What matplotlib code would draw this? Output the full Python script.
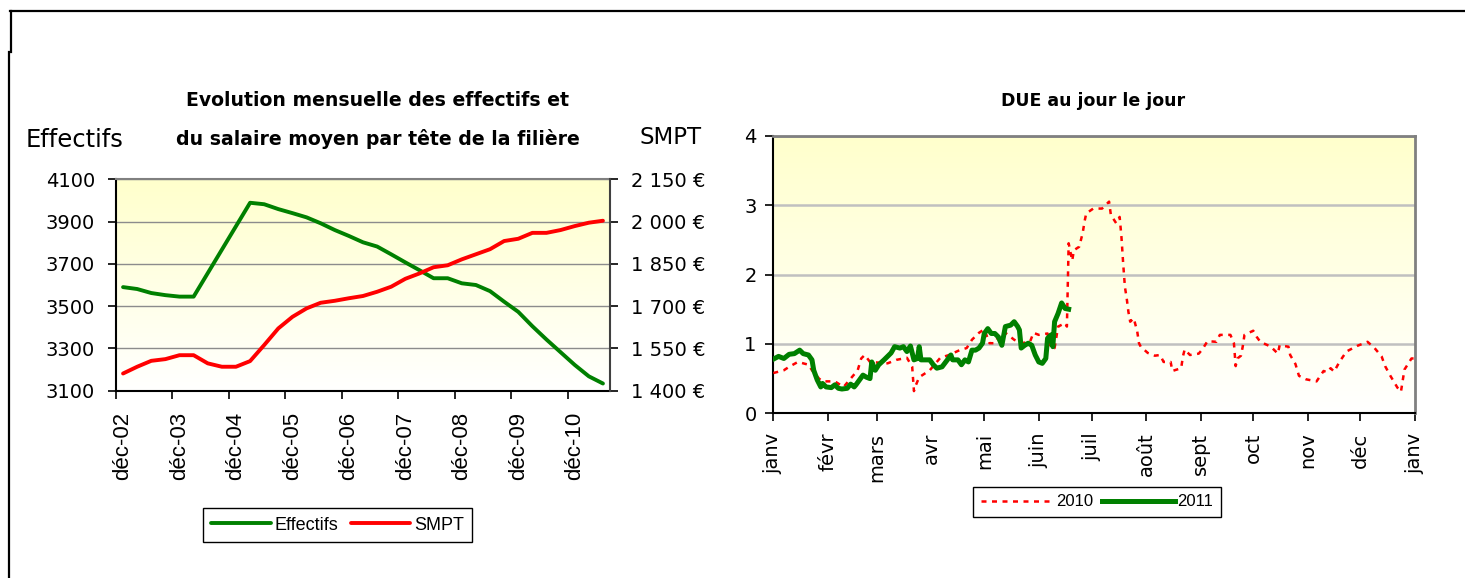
import numpy as np
import matplotlib
matplotlib.use("Agg")
import matplotlib.pyplot as plt
from matplotlib.colors import LinearSegmentedColormap
from matplotlib.lines import Line2D

# ---------------- data: left chart (quarterly, déc-02 .. juin-11) ----------------
effectifs = [3590, 3581, 3562, 3552, 3545, 3545, 3656, 3767, 3878, 3989,
             3982, 3959, 3940, 3920, 3892, 3860, 3832, 3802, 3782, 3745,
             3707, 3670, 3632, 3632, 3608, 3600, 3571, 3521, 3473, 3405,
             3342, 3282, 3222, 3168, 3134]
smpt = [1461, 1485, 1506, 1512, 1526, 1526, 1497, 1485, 1485, 1505,
        1562, 1621, 1662, 1692, 1712, 1719, 1728, 1736, 1751, 1769,
        1797, 1816, 1838, 1845, 1866, 1884, 1902, 1931, 1939, 1960,
        1960, 1970, 1984, 1996, 2003]
year_labels = ['déc-02', 'déc-03', 'déc-04', 'déc-05', 'déc-06',
               'déc-07', 'déc-08', 'déc-09', 'déc-10']
eff_ticks = [3100, 3300, 3500, 3700, 3900, 4100]
smpt_ticks = [1400, 1550, 1700, 1850, 2000, 2150]

# ---------------- data: right chart (day of year) ----------------
days_2010 = [0, 6, 9, 14, 20, 22, 26, 28, 35, 40, 48, 50, 52, 55, 65, 70, 76, 79, 80, 81,
             83, 89, 95, 100, 106, 110, 113, 117, 120, 123, 126, 129, 131, 137, 141, 146, 148, 151, 156, 157,
             160, 162, 166, 167, 168, 170, 171, 174, 176, 177, 178, 182, 187, 189, 191, 192, 195, 197, 198, 199,
             200, 201, 202, 203, 205, 207, 208, 209, 213, 217, 220, 222, 226, 227, 232, 233, 234, 237, 242, 244,
             247, 252, 254, 260, 262, 263, 264, 266, 267, 268, 273, 275, 277, 283, 287, 288, 293, 294, 297, 299,
             303, 309, 313, 315, 317, 319, 322, 326, 332, 338, 342, 346, 348, 351, 355, 357, 359, 363, 365]
due_2010 = [0.58, 0.62, 0.67, 0.74, 0.70, 0.62, 0.50, 0.46, 0.46, 0.38, 0.62, 0.79, 0.84, 0.74, 0.72, 0.77, 0.80, 0.67, 0.32, 0.40,
            0.52, 0.62, 0.80, 0.84, 0.91, 0.94, 1.06, 1.16, 1.21, 1.01, 1.01, 1.15, 1.18, 1.06, 1.01, 1.03, 1.16, 1.13, 1.15, 0.96,
            0.94, 1.25, 1.30, 1.25, 2.45, 2.20, 2.35, 2.40, 2.60, 2.76, 2.88, 2.95, 2.95, 3.00, 3.05, 2.86, 2.74, 2.83, 2.55, 2.16,
            1.82, 1.66, 1.46, 1.32, 1.37, 1.18, 1.01, 0.96, 0.87, 0.83, 0.84, 0.74, 0.74, 0.61, 0.65, 0.82, 0.92, 0.84, 0.86, 0.92,
            1.04, 1.03, 1.13, 1.13, 1.01, 0.68, 0.79, 0.83, 0.96, 1.13, 1.19, 1.10, 1.03, 0.96, 0.86, 0.98, 0.96, 0.84, 0.71, 0.54,
            0.49, 0.46, 0.61, 0.59, 0.65, 0.60, 0.74, 0.89, 0.97, 1.03, 0.94, 0.82, 0.68, 0.54, 0.37, 0.31, 0.63, 0.79, 0.79]
days_2011 = [0, 3, 6, 9, 12, 15, 17, 20, 22, 23, 25, 27, 28, 30, 33, 35, 37, 39, 42, 44,
             46, 47, 49, 51, 53, 55, 56, 58, 60, 63, 65, 67, 69, 72, 74, 76, 78, 80, 82, 83,
             84, 87, 89, 91, 93, 96, 99, 101, 102, 105, 107, 109, 111, 113, 115, 117, 119, 120, 122, 124,
             126, 128, 130, 132, 135, 137, 139, 140, 141, 143, 145, 147, 149, 151, 153, 155, 156, 158, 159, 160,
             162, 164, 166, 168]
due_2011 = [0.78, 0.82, 0.79, 0.85, 0.86, 0.91, 0.86, 0.84, 0.77, 0.62, 0.48, 0.38, 0.43, 0.38, 0.37, 0.41, 0.36, 0.35, 0.36, 0.42,
            0.38, 0.41, 0.48, 0.55, 0.52, 0.50, 0.74, 0.62, 0.70, 0.77, 0.82, 0.87, 0.96, 0.94, 0.96, 0.89, 0.97, 0.77, 0.79, 0.96,
            0.77, 0.77, 0.77, 0.70, 0.65, 0.67, 0.77, 0.84, 0.77, 0.77, 0.70, 0.77, 0.74, 0.91, 0.91, 0.94, 1.01, 1.15, 1.22, 1.15,
            1.15, 1.10, 0.98, 1.25, 1.27, 1.32, 1.25, 1.20, 0.94, 0.98, 1.01, 0.98, 0.84, 0.74, 0.72, 0.79, 1.08, 1.13, 0.96, 1.32,
            1.44, 1.59, 1.51, 1.50]
month_starts = [0, 31, 59, 90, 120, 151, 181, 212, 243, 273, 304, 334, 365]
month_labels = ['janv', 'févr', 'mars', 'avr', 'mai', 'juin', 'juil', 'août',
                'sept', 'oct', 'nov', 'déc', 'janv']
due_ticks = [0, 1, 2, 3, 4]

# ---------------- figure ----------------
W, H = 1465, 578
fig = plt.figure(figsize=(W / 100, H / 100), dpi=100)
fig.patch.set_facecolor('white')

def box(x0, y0, x1, y1):
    return [x0 / W, 1 - y1 / H, (x1 - x0) / W, (y1 - y0) / H]

grad_cmap = LinearSegmentedColormap.from_list('yl', ['#FFFFFF', '#FFFFCC'])
grad = np.linspace(0, 1, 256).reshape(-1, 1)
GREEN = '#008000'
RED = '#FF0000'
num_font = dict(family='DejaVu Sans', size=14)

# ---- left chart ----
ax = fig.add_axes(box(116, 179.3, 610, 390.7))
ax.imshow(grad, extent=[0, 1, 0, 1], origin='lower', transform=ax.transAxes,
          aspect='auto', cmap=grad_cmap, zorder=-2)
x = np.arange(len(effectifs))
ax.set_xlim(-0.5, len(effectifs) - 0.5)
ax.set_ylim(eff_ticks[0], eff_ticks[-1])
ax.set_yticks(eff_ticks)
ax.set_yticklabels([str(v) for v in eff_ticks], fontdict=num_font)
ax.grid(axis='y', color='#8C8C8C', lw=1.0)
ax.set_axisbelow(True)
ax.set_xticks(np.arange(0, len(effectifs), 4)[:len(year_labels)])
ax.set_xticklabels(year_labels, rotation=90, family='Liberation Sans', fontsize=16)
ax.set_xticks(np.arange(-0.5, len(effectifs) - 1, 4), minor=True)
ax.tick_params(axis='x', which='major', length=0, pad=15)
ax.tick_params(axis='x', which='minor', length=6, width=1.2, direction='out', color='black')
ax.tick_params(axis='y', length=6, width=1.2, direction='out', pad=9)
for s in ['left', 'bottom']:
    ax.spines[s].set_color('black')
    ax.spines[s].set_linewidth(1.5)
ax.spines['top'].set_color('#808080')
ax.spines['top'].set_linewidth(1.5)
ax.spines['right'].set_visible(False)
l1, = ax.plot(x, effectifs, color=GREEN, lw=2.8, solid_capstyle='round', zorder=3)

ax2 = ax.twinx()
ax2.set_ylim(smpt_ticks[0], smpt_ticks[-1])
ax2.set_yticks(smpt_ticks)
ax2.set_yticklabels(['{:,}'.format(v).replace(',', ' ') + ' €' for v in smpt_ticks], fontdict=num_font)
ax2.tick_params(axis='y', length=6, width=1.2, direction='out', pad=9)
for s in ['left', 'bottom', 'top']:
    ax2.spines[s].set_visible(False)
ax2.spines['right'].set_color('#404040')
ax2.spines['right'].set_linewidth(1.5)
l2, = ax2.plot(x, smpt, color=RED, lw=2.8, solid_capstyle='round', zorder=3)

fig.text(378 / W, 1 - 101 / H, 'Evolution mensuelle des effectifs et', ha='center', va='center',
         fontsize=13.6, fontweight='bold', family='DejaVu Sans')
fig.text(378 / W, 1 - 139 / H, 'du salaire moyen par tête de la filière', ha='center', va='center',
         fontsize=13.6, fontweight='bold', family='DejaVu Sans')
fig.text(75 / W, 1 - 140 / H, 'Effectifs', ha='center', va='center', fontsize=17.5, family='DejaVu Sans')
fig.text(671 / W, 1 - 137 / H, 'SMPT', ha='center', va='center', fontsize=16.5, family='DejaVu Sans')

leg1 = fig.legend([l1, l2], ['Effectifs', 'SMPT'], loc='center', bbox_to_anchor=(337.5 / W, 1 - 525 / H),
                  ncol=2, frameon=True, fancybox=False, edgecolor='black', framealpha=1,
                  prop=dict(family='Liberation Sans', size=13), handlelength=3.3,
                  handletextpad=0.2, columnspacing=0.7, borderpad=0.45)
leg1.get_frame().set_linewidth(1.0)

# ---- right chart ----
bx = fig.add_axes(box(773.3, 135.7, 1415, 413.3))
bx.imshow(grad, extent=[0, 1, 0, 1], origin='lower', transform=bx.transAxes,
          aspect='auto', cmap=grad_cmap, zorder=-2)
bx.set_xlim(month_starts[0], month_starts[-1])
bx.set_ylim(due_ticks[0], due_ticks[-1])
bx.set_yticks(due_ticks)
bx.set_yticklabels([str(v) for v in due_ticks], fontdict=num_font)
bx.grid(axis='y', color='#C0C0C0', lw=1.8)
bx.set_axisbelow(True)
bx.set_xticks(month_starts)
bx.set_xticklabels(month_labels, rotation=90, family='DejaVu Sans', fontsize=14)
bx.tick_params(axis='x', length=6, width=1.2, direction='out', pad=8)
bx.tick_params(axis='y', length=6, width=1.2, direction='out', pad=6)
for s in ['left', 'bottom']:
    bx.spines[s].set_color('black')
    bx.spines[s].set_linewidth(1.5)
for s in ['top', 'right']:
    bx.spines[s].set_color('#808080')
    bx.spines[s].set_linewidth(2)
r1, = bx.plot(days_2010, due_2010, color=RED, lw=1.8, linestyle=(0, (2, 2.2)), zorder=3)
r2, = bx.plot(days_2011, due_2011, color=GREEN, lw=3.6, solid_joinstyle='round', zorder=4)
fig.text(1093 / W, 1 - 101 / H, 'DUE au jour le jour', ha='center', va='center',
         fontsize=12.5, fontweight='bold', family='DejaVu Sans')

leg2 = fig.legend([r1, r2], ['2010', '2011'], loc='center', bbox_to_anchor=(1097 / W, 1 - 502 / H),
                  ncol=2, frameon=True, fancybox=False, edgecolor='black', framealpha=1,
                  prop=dict(family='Liberation Sans', size=12), handlelength=4.4,
                  handletextpad=0.15, columnspacing=0.5, borderpad=0.45)
leg2.get_frame().set_linewidth(1.0)

# ---- outer frame lines ----
fig.add_artist(Line2D([10 / W, 1], [1 - 11 / H, 1 - 11 / H], color='black', lw=1.6, transform=fig.transFigure))
fig.add_artist(Line2D([11 / W, 11 / W], [1 - 11 / H, 1 - 52 / H], color='black', lw=1.6, transform=fig.transFigure))
fig.add_artist(Line2D([9 / W, 9 / W], [1 - 52 / H, 0], color='black', lw=1.6, transform=fig.transFigure))

fig.savefig('out.png', dpi=100)
